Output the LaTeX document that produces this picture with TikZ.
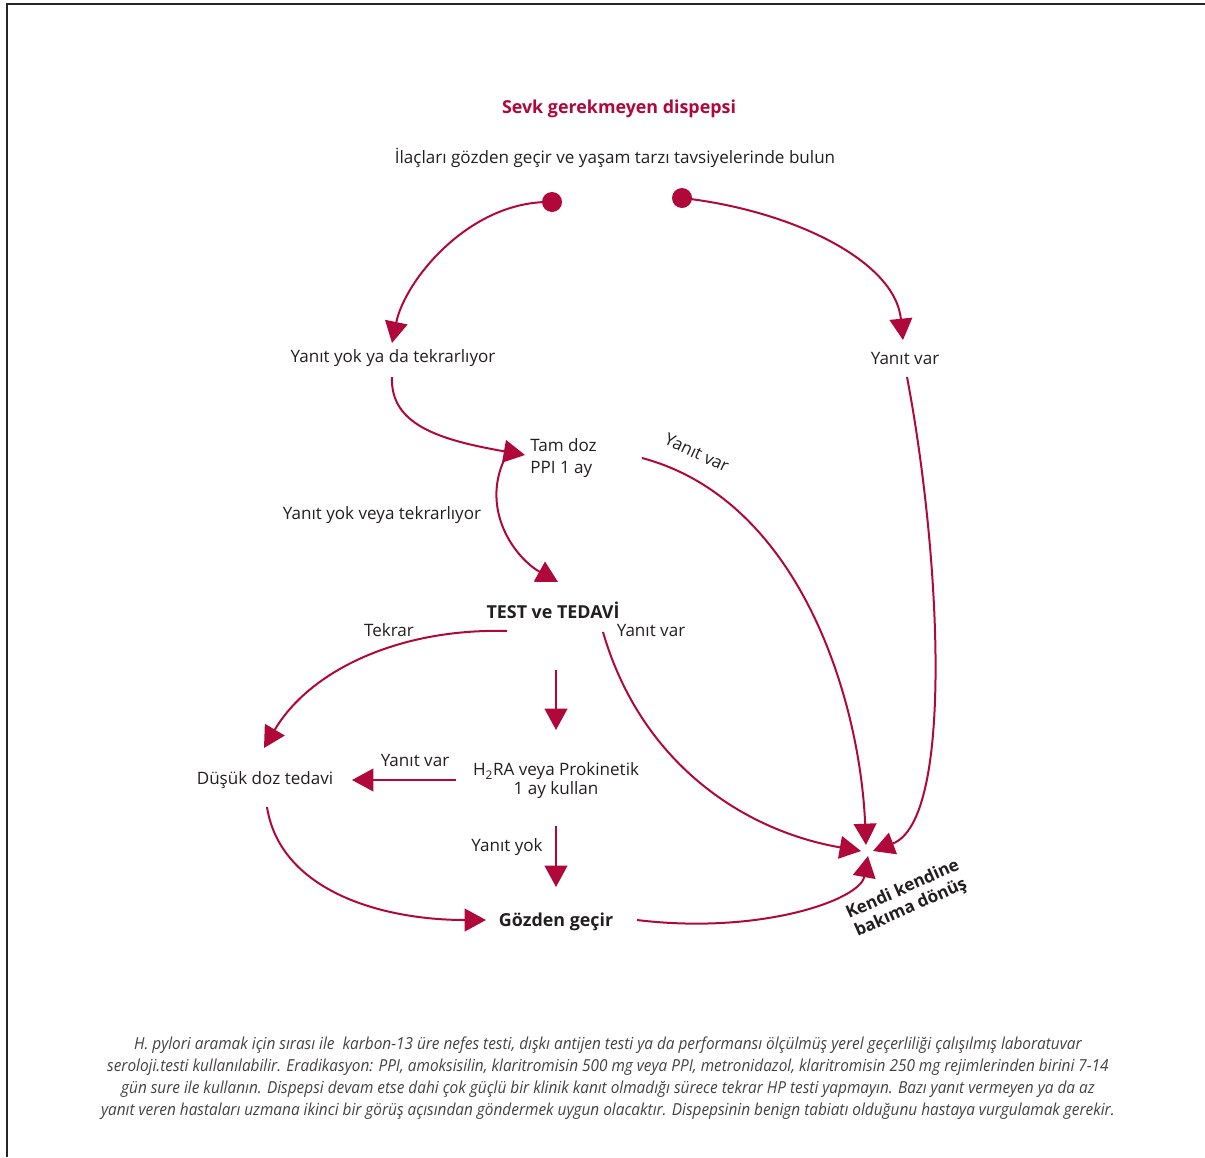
\documentclass[tikz,border=0pt]{standalone}
\usepackage{fontspec}
\setmainfont{Open Sans}
\newfontfamily\footfont[FakeStretch=0.93]{Open Sans}
\usetikzlibrary{arrows.meta}
\definecolor{crim}{RGB}{176,8,58}
\definecolor{txt}{RGB}{35,31,32}
\begin{document}
\begin{tikzpicture}[x=0.75pt,y=-0.75pt,
  lbl/.style={font=\fontsize{12.8}{16.5}\selectfont, text=txt, inner sep=0pt, align=center},
  boldlbl/.style={font=\fontsize{13.4}{15}\selectfont\bfseries, text=txt, inner sep=0pt, align=center},
  conn/.style={draw=crim, line width=1.5pt, -{Triangle[width=17pt,length=16pt]}},
  dot/.style={circle, fill=crim, inner sep=0pt, minimum size=15pt}]
\useasboundingbox (0,0) rectangle (1205,1157);
\draw[line width=1.3pt, black!85] (7,1157) -- (7,4) -- (1205,4);

% texts
\node[boldlbl, text=crim] (title) at (619,109) {Sevk gerekmeyen dispepsi};
\node[lbl] (main) at (615,158) {İlaçları gözden geçir ve yaşam tarzı tavsiyelerinde bulun};
\node[lbl] (n1) at (393,358) {Yanıt yok ya da tekrarlıyor};
\node[lbl] (n2) at (905,358) {Yanıt var};
\node[lbl, align=left, anchor=west] (tam) at (530,458) {Tam doz\\PPI 1 ay};
\node[lbl] (l1) at (382,515) {Yanıt yok veya tekrarlıyor};
\node[lbl, rotate=-25] (l2) at (697,453) {Yanıt var};
\node[boldlbl] (test) at (553,610) {TEST ve TEDAVİ};
\node[lbl] (tekrar) at (389,630) {Tekrar};
\node[lbl] (yv2) at (651,630) {Yanıt var};
\node[lbl, font=\fontsize{12.8}{14.3}\selectfont] (h2ra) at (556,781) {H\textsubscript{2}RA veya Prokinetik\\1 ay kullan};
\node[lbl] (yv3) at (415,760) {Yanıt var};
\node[lbl] (dusuk) at (265,780) {Düşük doz tedavi};
\node[lbl] (yy) at (507,847) {Yanıt yok};
\node[boldlbl] (goz) at (556,922) {Gözden geçir};
\node[boldlbl, rotate=24, font=\fontsize{12.8}{15}\selectfont\bfseries] (kendi) at (907,899) {Kendi kendine\\bakıma dönüş};

\node[lbl, font=\footfont\itshape\fontsize{12.4}{16.5}\selectfont, text=txt!85] (foot) at (608,1078)
{H. pylori aramak için sırası ile \ karbon-13 üre nefes testi, dışkı antijen testi ya da performansı ölçülmüş yerel geçerliliği çalışılmış laboratuvar\\
seroloji.testi kullanılabilir. Eradikasyon: PPI, amoksisilin, klaritromisin 500 mg veya PPI, metronidazol, klaritromisin 250 mg rejimlerinden birini 7-14\\
gün sure ile kullanın. Dispepsi devam etse dahi çok güçlü bir klinik kanıt olmadığı sürece tekrar HP testi yapmayın. Bazı yanıt vermeyen ya da az\\
yanıt veren hastaları uzmana ikinci bir görüş açısından göndermek uygun olacaktır. Dispepsinin benign tabiatı olduğunu hastaya vurgulamak gerekir.};

% coordinates
\coordinate (d1c) at (552,202);
\coordinate (d2c) at (682,198);
\coordinate (a1) at (392,343);
\coordinate (a2) at (903,340);
\coordinate (s3) at (392,377);
\coordinate (a3) at (525,455);
\coordinate (s4) at (505,458);
\coordinate (a4) at (558,582);
\coordinate (s5) at (642,458);
\coordinate (kt) at (866,845);
\coordinate (s6) at (907,377);
\coordinate (kr) at (873,851);
\coordinate (s7) at (603,632);
\coordinate (kl) at (861,851);
\coordinate (s8) at (507,631);
\coordinate (a8) at (264,748);
\coordinate (s9) at (556,670);
\coordinate (a9) at (556,730);
\coordinate (s10) at (456,780);
\coordinate (a10) at (352,780);
\coordinate (s11) at (267,807);
\coordinate (a11) at (486,920);
\coordinate (s12) at (556,826);
\coordinate (a12) at (556,887);
\coordinate (s13) at (637,920);
\coordinate (kb) at (868,856);

% connectors
\draw[conn] (d1c) .. controls (470,200) and (405,280) .. (a1);
\draw[conn] (d2c) .. controls (790,210) and (895,260) .. (a2);
\draw[conn] (s3) .. controls (390,425) and (440,440) .. (a3);
\draw[conn] (s4) .. controls (480,510) and (515,558) .. (a4);
\draw[conn] (s5) .. controls (800,500) and (860,700) .. (kt);
\draw[conn] (s6) .. controls (940,550) and (955,820) .. (kr);
\draw[conn] (s7) .. controls (640,760) and (740,830) .. (kl);
\draw[conn] (s8) .. controls (400,628) and (310,670) .. (a8);
\draw[conn] (s9) -- (a9);
\draw[conn] (s10) -- (a10);
\draw[conn] (s11) .. controls (280,890) and (380,920) .. (a11);
\draw[conn] (s12) -- (a12);
\draw[conn] (s13) .. controls (760,935) and (860,900) .. (kb);

\node[dot] (d1) at (d1c) {};
\node[dot] (d2) at (d2c) {};
\end{tikzpicture}
\end{document}
